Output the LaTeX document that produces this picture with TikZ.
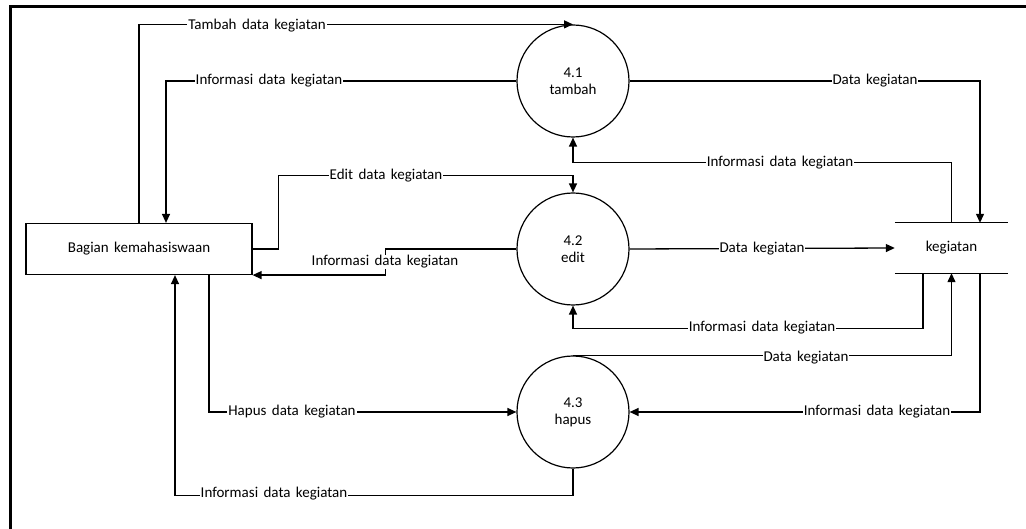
\documentclass[tikz,border=0pt]{standalone}
\usepackage{fontspec}
\setmainfont[WordSpace=1.6]{Carlito}
\usetikzlibrary{arrows.meta,calc}

\tikzset{
  flow/.style={line width=1.3pt, -{Triangle[length=9pt,width=8pt]}},
  plain/.style={line width=1.3pt},
  entity/.style={draw, line width=1.2pt, minimum width=226pt, minimum height=51pt, inner sep=0pt},
  proc/.style={draw, circle, line width=1.2pt, minimum size=112pt, inner sep=0pt, align=center},
  store/.style={minimum width=113pt, minimum height=50pt, inner sep=0pt},
  lbl/.style={fill=white, inner sep=1pt},
}

\begin{document}
\begin{tikzpicture}[x=1pt, y=-1pt, font=\fontsize{15}{17}\selectfont]
  \useasboundingbox (0,0) rectangle (1026,529);

  % frame
  \draw[line width=3pt] (10,529) -- (10,6.3) -- (1026,6.3);

  % external entity, processes and data store
  \node[entity] (ent) at (139,249) {Bagian kemahasiswaan};
  \node[proc] (p41) at (573,81) {4.1\\tambah};
  \node[proc] (p42) at (573,249) {4.2\\edit};
  \node[proc] (p43) at (573,412) {4.3\\hapus};
  \node[store] (st) at (951.5,248) {kegiatan};
  \draw[plain] (st.north west) -- (st.north east);
  \draw[plain] (st.south west) -- (st.south east);

  % flows of process 4.1
  \draw[flow] (ent.north) |- (p41.north);
  \draw[flow] (p41.west) -| ([xshift=27pt]ent.north);
  \draw[flow] (p41.east) -| ([xshift=28.5pt]st.north);
  \draw[flow] (st.north) -- ++(0,-60) -| (p41.south);

  % flows of process 4.2
  \draw[flow] (ent.east) -- ++(26,0) |- ($(p42.north)+(0,-17)$) -- (p42.north);
  \draw[flow] (p42.west) -| ($(ent.south east)+(133,0)$) -- (ent.south east);
  \draw[flow] (p42.east) -- (st.west);
  \draw[flow] ([xshift=-28.5pt]st.south) -- ++(0,55) -| (p42.south);

  % flows of process 4.3
  \draw[flow] ([xshift=70pt]ent.south) |- (p43.west);
  \draw[flow] (p43.south) -- ++(0,27) -| ([xshift=36pt]ent.south);
  \draw[flow] (p43.north) -| (st.south);
  \draw[flow] ([xshift=28.5pt]st.south) |- (p43.east);

  % flow labels
  \node[lbl] (l1) at (257,26) {Tambah data kegiatan};
  \node[lbl] (l2) at (269,81) {Informasi data kegiatan};
  \node[lbl] (l3) at (875,81) {Data kegiatan};
  \node[lbl] (l4) at (780,163) {Informasi data kegiatan};
  \node[lbl] (l5) at (386,176) {Edit data kegiatan};
  \node[lbl] (l6) at (385,262) {Informasi data kegiatan};
  \node[lbl] (l7) at (762,249) {Data kegiatan};
  \node[lbl] (l8) at (762,328) {Informasi data kegiatan};
  \node[lbl] (l9) at (806,358) {Data kegiatan};
  \node[lbl] (l10) at (877,412) {Informasi data kegiatan};
  \node[lbl] (l11) at (292,412) {Hapus data kegiatan};
  \node[lbl] (l12) at (274,494) {Informasi data kegiatan};
\end{tikzpicture}
\end{document}
